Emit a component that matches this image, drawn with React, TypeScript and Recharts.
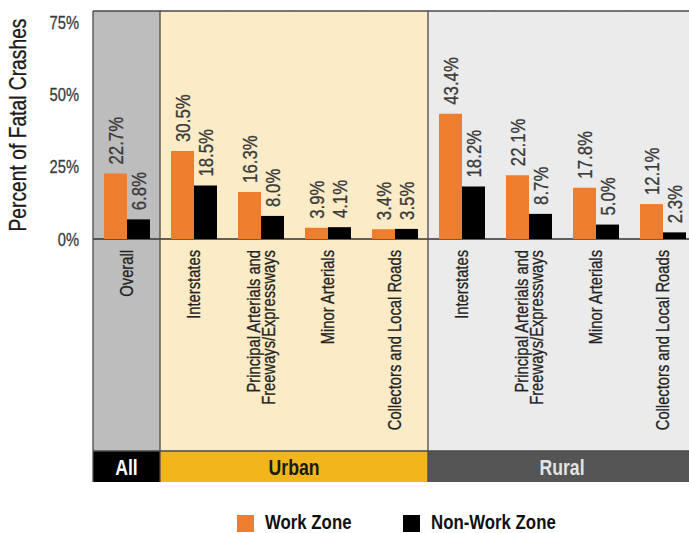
import React from "react";
import { BarChart, Bar, XAxis, YAxis, LabelList } from "recharts";

// data
const categoryKeys = [
  "all-overall",
  "urban-interstates",
  "urban-principal",
  "urban-minor",
  "urban-collectors",
  "rural-interstates",
  "rural-principal",
  "rural-minor",
  "rural-collectors",
];
const categoryLabels = [
  ["Overall"],
  ["Interstates"],
  ["Principal Arterials and", "Freeways/Expressways"],
  ["Minor Arterials"],
  ["Collectors and Local Roads"],
  ["Interstates"],
  ["Principal Arterials and", "Freeways/Expressways"],
  ["Minor Arterials"],
  ["Collectors and Local Roads"],
];
const categoryGroups = ["All", "Urban", "Urban", "Urban", "Urban", "Rural", "Rural", "Rural", "Rural"];
const workZone = [22.7, 30.5, 16.3, 3.9, 3.4, 43.4, 22.1, 17.8, 12.1];
const nonWorkZone = [6.8, 18.5, 8.0, 4.1, 3.5, 18.2, 8.7, 5.0, 2.3];
const yTicks = [0, 25, 50, 75];
const seriesNames = ["Work Zone", "Non-Work Zone"];
const yTitle = "Percent of Fatal Crashes";

const rows = categoryKeys.map((key, i) => ({
  key,
  work: workZone[i],
  nonWork: nonWorkZone[i],
}));

// Liberation Sans squeezed to Arial Narrow proportions
const FONT = "'Liberation Sans', Arial, sans-serif";
const SQUEEZE = 0.82;
const ORANGE = "#ee7d2e";
const BLACK = "#000000";
const FRAME = "#4a4a4a";
const MARGIN_TOP = 11;
const CHART_W = 700;
const CHART_H = 533;
const Y_W = 93;
const X_H = 243;
const BAND_OFFSET = 212; // zero line -> group band
const BAND_H = 31;
const Y_DOMAIN: [number, number] = [0, 79];

const groupStyle: Record<string, { panel: string; band: string; text: string }> = {
  All: { panel: "#bdbdbd", band: "#000000", text: "#ffffff" },
  Urban: { panel: "#fbebc6", band: "#f2b51c", text: "#1a1a1a" },
  Rural: { panel: "#ebebeb", band: "#555555", text: "#e4e4e4" },
};

// slight stroke gives the medium weight of the original condensed face
function NarrowText({ x, y, angle = 0, children, fill, heavy = 0.3, ...rest }: any) {
  return (
    <text
      transform={`translate(${x} ${y}) rotate(${angle}) scale(${SQUEEZE} 1)`}
      x={0}
      y={0}
      fontFamily={FONT}
      fill={fill}
      stroke={fill}
      strokeWidth={heavy}
      {...rest}
    >
      {children}
    </text>
  );
}

// draws panel background, frame pieces, category label and group band for each category
function CategoryTick(props: any) {
  const { x, y, payload } = props;
  const n = categoryKeys.length;
  const i = props.index ?? categoryKeys.indexOf(payload.value);
  const half = payload.offset ?? (CHART_W - Y_W - 4) / n / 2;
  const w = half * 2;
  const left = x - half;
  const group = categoryGroups[i];
  const st = groupStyle[group];
  const isFirst = i === 0 || categoryGroups[i - 1] !== group;
  const isLast = i === n - 1 || categoryGroups[i + 1] !== group;
  const inGroup = categoryGroups.filter((g) => g === group).length;
  const bandTop = y + BAND_OFFSET;
  const lines = categoryLabels[i];
  const lh = 15;
  return (
    <g>
      <rect x={left} y={MARGIN_TOP} width={w + 0.5} height={bandTop - MARGIN_TOP} fill={st.panel} />
      <rect x={left} y={bandTop} width={w + 0.5} height={BAND_H} fill={st.band} />
      <line x1={left} x2={left + w + 0.5} y1={MARGIN_TOP} y2={MARGIN_TOP} stroke={FRAME} strokeWidth={1.3} />
      <line x1={left} x2={left + w + 0.5} y1={y} y2={y} stroke="#333" strokeWidth={1.3} />
      <line x1={left} x2={left + w + 0.5} y1={bandTop} y2={bandTop} stroke={FRAME} strokeWidth={1.3} />
      {isFirst && (
        <line x1={left} x2={left} y1={MARGIN_TOP} y2={bandTop + BAND_H} stroke={FRAME} strokeWidth={1.3} />
      )}
      {lines.map((t, k) => (
        <NarrowText
          key={k}
          x={x + (k - (lines.length - 1) / 2) * lh}
          y={y + 11}
          angle={-90}
          textAnchor="end"
          dominantBaseline="central"
          fontSize={18}
          fill="#222"
        >
          {t}
        </NarrowText>
      ))}
      {isLast && (
        <NarrowText
          x={x - ((inGroup - 1) / 2) * w}
          y={bandTop + BAND_H / 2 + 1}
          textAnchor="middle"
          dominantBaseline="central"
          fontWeight="bold"
          fontSize={21.5}
          fill={st.text}
          heavy={0}
        >
          {group}
        </NarrowText>
      )}
    </g>
  );
}

function ValueLabel(props: any) {
  const x = Number(props.x);
  const y = Number(props.y);
  const width = Number(props.width);
  return (
    <NarrowText
      x={x + width / 2}
      y={y - 9}
      angle={-90}
      textAnchor="start"
      dominantBaseline="central"
      fontSize={20.5}
      fill="#3a3a3a"
    >
      {`${Number(props.value).toFixed(1)}%`}
    </NarrowText>
  );
}

function YTick(props: any) {
  return (
    <NarrowText
      x={props.x}
      y={props.y}
      textAnchor="end"
      dominantBaseline="central"
      fontSize={18}
      fill="#3a3a3a"
    >
      {`${props.payload.value}%`}
    </NarrowText>
  );
}

function YTitle(props: any) {
  const vb = props.viewBox || {};
  const cy = (vb.y ?? MARGIN_TOP) + (vb.height ?? 228) / 2;
  return (
    <NarrowText
      x={18}
      y={cy}
      angle={-90}
      textAnchor="middle"
      dominantBaseline="central"
      fontSize={23.5}
      fill="#1a1a1a"
    >
      {yTitle}
    </NarrowText>
  );
}

const chartProps = {
  width: CHART_W,
  height: CHART_H,
  data: rows,
  margin: { top: MARGIN_TOP, right: 4, left: 0, bottom: CHART_H - MARGIN_TOP - 228 - X_H },
  barCategoryGap: 11,
  barGap: 0,
};

const layer: React.CSSProperties = { position: "absolute", left: 0, top: 0 };

export default function App() {
  const colors = [ORANGE, BLACK];
  const legendX = [237, 403];
  return (
    <div
      style={{
        position: "absolute",
        left: 0,
        top: 0,
        width: 689,
        height: 533,
        overflow: "hidden",
        background: "#fff",
      }}
    >
      {/* background layer: panels, frame, category labels, group bands */}
      <div style={layer}>
        <BarChart {...chartProps}>
          <XAxis
            dataKey="key"
            height={X_H}
            interval={0}
            tick={<CategoryTick />}
            tickLine={false}
            axisLine={false}
            tickSize={0}
            tickMargin={0}
          />
          <YAxis width={Y_W} domain={Y_DOMAIN} ticks={yTicks} tick={false} tickLine={false} axisLine={false} />
        </BarChart>
      </div>
      {/* foreground layer: bars, values, y axis */}
      <div style={layer}>
        <BarChart {...chartProps}>
          <XAxis dataKey="key" height={X_H} interval={0} tick={false} tickLine={false} axisLine={false} />
          <YAxis
            width={Y_W}
            domain={Y_DOMAIN}
            ticks={yTicks}
            tickLine={false}
            axisLine={false}
            tickSize={0}
            tickMargin={14}
            tick={<YTick />}
            label={<YTitle />}
          />
          <Bar dataKey="work" name={seriesNames[0]} fill={ORANGE} isAnimationActive={false}>
            <LabelList dataKey="work" content={<ValueLabel />} />
          </Bar>
          <Bar dataKey="nonWork" name={seriesNames[1]} fill={BLACK} isAnimationActive={false}>
            <LabelList dataKey="nonWork" content={<ValueLabel />} />
          </Bar>
        </BarChart>
      </div>
      <svg style={{ position: "absolute", left: 0, top: 505 }} width={689} height={28}>
        {seriesNames.map((name, i) => (
          <g key={name}>
            <rect x={legendX[i]} y={10} width={17} height={17} fill={colors[i]} />
            <NarrowText x={legendX[i] + 28} y={24} fontSize={20.5} fontWeight="bold" fill="#111" heavy={0}>
              {name}
            </NarrowText>
          </g>
        ))}
      </svg>
    </div>
  );
}
